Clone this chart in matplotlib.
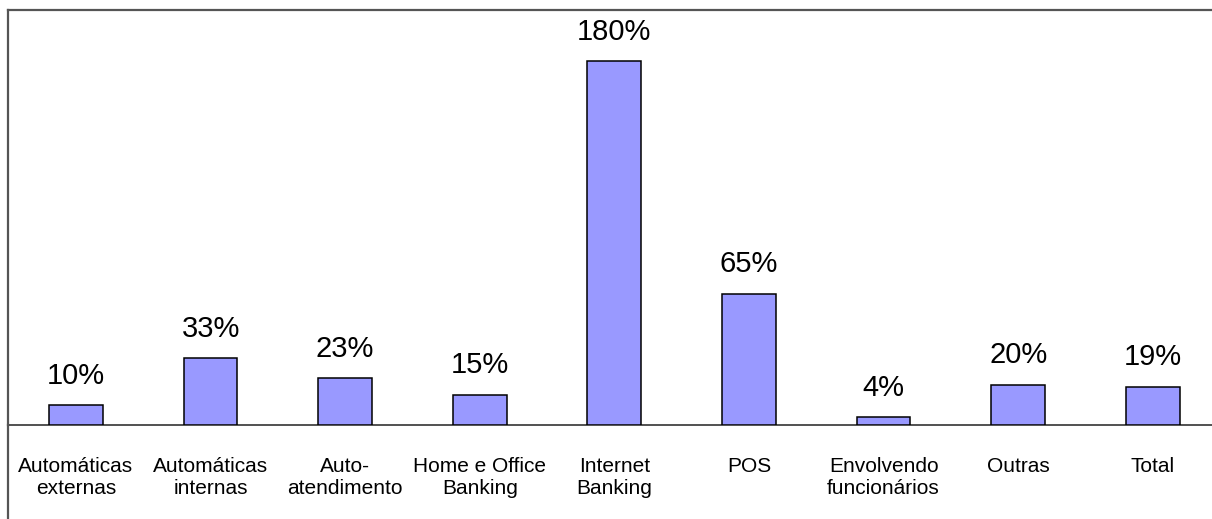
import matplotlib
matplotlib.use("Agg")
import matplotlib.pyplot as plt

categories = ["Automáticas\nexternas", "Automáticas\ninternas", "Auto-\natendimento",
              "Home e Office\nBanking", "Internet\nBanking", "POS",
              "Envolvendo\nfuncionários", "Outras", "Total"]
values = [10, 33, 23, 15, 180, 65, 4, 20, 19]

plt.rcParams["font.family"] = ["Liberation Sans", "DejaVu Sans"]

W, H = 1212, 519
fig = plt.figure(figsize=(W / 100, H / 100), dpi=100)
fig.patch.set_facecolor("white")

# axes: left frame at x=8, top at y=10, baseline at y=425
x0, top, base = 8, 10, 425
ax = fig.add_axes([x0 / W, 1 - base / H, (W - x0) / W, (base - top) / H])
x = range(len(values))
ax.bar(x, values, width=0.40, color="#9999FF", edgecolor="black", linewidth=1.1, zorder=3)
ax.set_xlim(-0.505, 8.44)
ax.set_ylim(0, (base - top) / 2.022)
ax.set_yticks([])
ax.set_xticks(list(x))
ax.set_xticklabels(categories, fontsize=15, linespacing=1.2)
ax.tick_params(axis="x", length=0, pad=23)
ax.spines["right"].set_visible(False)
ax.spines["bottom"].set_color("#333333")
ax.spines["bottom"].set_linewidth(1.2)
for s in ("left", "top"):
    ax.spines[s].set_color("#555555")
    ax.spines[s].set_linewidth(1.6)

for i, v in enumerate(values):
    ax.annotate(f"{v}%", (i, v), xytext=(0, 11), textcoords="offset points",
                ha="center", va="bottom", fontsize=21)

# left frame continues below the baseline
fig.add_artist(plt.Line2D([x0 / W, x0 / W], [0, 1 - base / H], color="#555555",
                          linewidth=1.6, transform=fig.transFigure))

fig.savefig("out.png", dpi=100, facecolor="white")
